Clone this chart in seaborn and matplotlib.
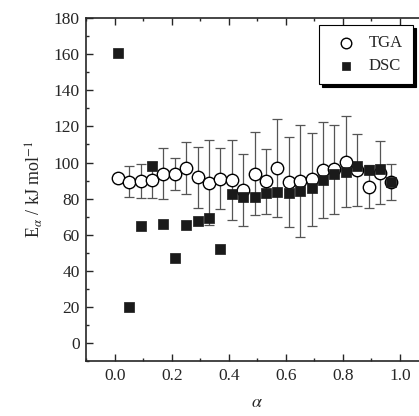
import numpy as np
import pandas as pd
import matplotlib
matplotlib.use("Agg")
import matplotlib.pyplot as plt
import seaborn as sns
from matplotlib.ticker import MultipleLocator

# Dados (conversão alpha vs energia de ativação)
alpha = [0.01, 0.05, 0.09, 0.13, 0.17, 0.21, 0.25, 0.29, 0.33, 0.37,
         0.41, 0.45, 0.49, 0.53, 0.57, 0.61, 0.65, 0.69, 0.73, 0.77,
         0.81, 0.85, 0.89, 0.93, 0.97]
tga = [91.5, 89.3, 89.8, 90.4, 93.9, 93.5, 96.9, 91.7, 88.9, 91.0,
       90.4, 84.8, 93.9, 89.6, 96.9, 89.3, 90.0, 90.6, 95.7, 96.2,
       100.5, 96.0, 86.7, 94.4, 89.0]
tga_err = [2.0, 8.5, 9.4, 10.0, 14.0, 9.0, 14.5, 17.0, 23.4, 17.0,
           22.0, 20.0, 23.0, 18.0, 27.0, 25.0, 31.0, 25.7, 26.6, 24.7,
           25.3, 20.0, 12.0, 17.6, 10.0]
dsc = [160.5, 20.0, 64.8, 98.1, 66.1, 47.2, 65.2, 67.6, 69.4, 51.9,
       82.8, 80.9, 80.9, 83.3, 83.9, 83.3, 84.3, 86.1, 90.4, 93.5,
       94.8, 97.8, 95.7, 96.3, 89.3]

df = pd.DataFrame({"alpha": alpha, "TGA": tga, "erro": tga_err, "DSC": dsc})

sns.set_style("ticks")
plt.rcParams["font.family"] = ["Liberation Serif", "DejaVu Serif"]
plt.rcParams["mathtext.fontset"] = "stix"

fig = plt.figure(figsize=(4.19, 4.16), dpi=100)
ax = fig.add_axes([0.2064, 0.132, 0.816, 0.8245])

# Barras de erro do TGA
ax.errorbar(df["alpha"], df["TGA"], yerr=df["erro"], fmt="none",
            ecolor="#555555", elinewidth=0.9, capsize=3.5, capthick=0.9, zorder=1)

sns.scatterplot(data=df, x="alpha", y="TGA", marker="o", s=80,
                facecolor="white", edgecolor="black", linewidth=1.0,
                label="TGA", ax=ax, zorder=2)
sns.scatterplot(data=df, x="alpha", y="DSC", marker="s", s=55,
                color="#1a1a1a", edgecolor="#1a1a1a", linewidth=0.5,
                label="DSC", ax=ax, zorder=3)

ax.set_xlim(-0.1, 1.1)
ax.set_ylim(-10, 180)
ax.xaxis.set_major_locator(MultipleLocator(0.2))
ax.xaxis.set_minor_locator(MultipleLocator(0.1))
ax.yaxis.set_major_locator(MultipleLocator(20))
ax.yaxis.set_minor_locator(MultipleLocator(10))
ax.set_xticks([0.0, 0.2, 0.4, 0.6, 0.8, 1.0])
ax.set_xticklabels(["0.0", "0.2", "0.4", "0.6", "0.8", "1.0"])
ax.tick_params(which="major", direction="in", length=5, width=1.0,
               labelsize=12.5, top=True, pad=5)
ax.tick_params(which="minor", direction="in", length=2.5, width=1.0, top=True)
for s in ax.spines.values():
    s.set_linewidth(1.2)

ax.set_xlabel(r"$\alpha$", fontsize=13, labelpad=7)
ax.set_ylabel(r"E$_\alpha$ / kJ mol$^{-1}$", fontsize=13, labelpad=6)

leg = ax.legend(loc="upper right", bbox_to_anchor=(0.986, 0.94),
                bbox_transform=fig.transFigure, borderaxespad=0,
                fontsize=12, frameon=True, fancybox=False, markerscale=0.85,
                shadow={"color": "black", "alpha": 1},
                handletextpad=0.4, borderpad=0.6, labelspacing=0.45)
leg.get_frame().set_edgecolor("black")
leg.get_frame().set_linewidth(0.8)

fig.savefig("out.png", dpi=100)
